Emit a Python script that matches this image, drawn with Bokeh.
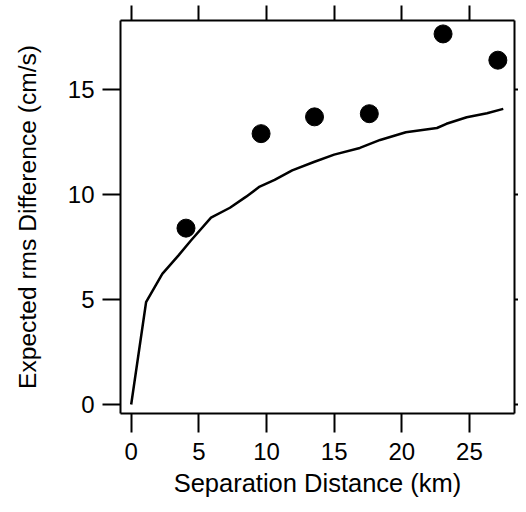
from bokeh.plotting import figure
from bokeh.models import LinearAxis, Range1d, FixedTicker, CustomJSTickFormatter
from bokeh.embed import file_html
from bokeh.resources import INLINE

# Data
curve_x = [0, 1.1, 2.3, 3.5, 4.4, 5.9, 7.3, 8.5, 9.5, 10.6, 11.9, 13.5, 15.0,
           16.9, 18.4, 20.3, 22.6, 23.3, 24.8, 26.3, 27.5]
curve_y = [0, 4.87, 6.22, 7.1, 7.8, 8.9, 9.37, 9.9, 10.38, 10.7, 11.15, 11.55,
           11.9, 12.22, 12.6, 12.97, 13.17, 13.37, 13.68, 13.87, 14.08]
obs_x = [4.05, 9.6, 13.55, 17.6, 23.05, 27.1]
obs_y = [8.4, 12.9, 13.7, 13.85, 17.65, 16.4]
x_ticks = [0, 5, 10, 15, 20, 25]
y_ticks = [0, 5, 10, 15]

FONT = "Liberation Sans"

p = figure(width=518, height=504, output_backend="svg", toolbar_location=None,
           x_range=Range1d(-0.79, 28.33), y_range=Range1d(-0.43, 18.29),
           x_axis_location=None, y_axis_location=None,
           min_border_left=120, min_border_right=4,
           min_border_top=20, min_border_bottom=91)
p.outline_line_color = None
p.grid.visible = False
p.background_fill_color = "white"
p.border_fill_color = "white"


def style(ax, tick_out, labels=True):
    ax.axis_line_color = "black"
    ax.axis_line_width = 2
    ax.major_tick_line_color = "black"
    ax.major_tick_line_width = 2
    ax.major_tick_out = tick_out
    ax.major_tick_in = 0
    ax.minor_tick_line_color = None
    if labels:
        ax.major_label_text_font = FONT
        ax.major_label_text_font_size = "24px"
        ax.major_label_text_color = "black"
    else:
        ax.formatter = CustomJSTickFormatter(code="return ''")
        ax.major_label_text_font_size = "1px"
        ax.major_label_standoff = 0


bottom = LinearAxis(ticker=FixedTicker(ticks=x_ticks),
                    axis_label="Separation Distance (km)")
style(bottom, 19)
bottom.major_label_standoff = 10
bottom.axis_label_standoff = 6
bottom.axis_label_text_font = FONT
bottom.axis_label_text_font_size = "25.5px"
bottom.axis_label_text_font_style = "normal"
bottom.axis_label_text_color = "black"
p.add_layout(bottom, "below")

left = LinearAxis(ticker=FixedTicker(ticks=y_ticks),
                  axis_label="Expected rms Difference (cm/s)")
style(left, 18)
left.major_label_standoff = 8
left.axis_label_standoff = 24
left.axis_label_text_font = FONT
left.axis_label_text_font_size = "24.6px"
left.axis_label_text_font_style = "normal"
left.axis_label_text_color = "black"
p.add_layout(left, "left")

top = LinearAxis(ticker=FixedTicker(ticks=x_ticks))
style(top, 15, labels=False)
p.add_layout(top, "above")

right = LinearAxis(ticker=FixedTicker(ticks=y_ticks))
style(right, 4, labels=False)
p.add_layout(right, "right")

p.line(curve_x, curve_y, line_color="black", line_width=2.5)
p.scatter(obs_x, obs_y, size=18, fill_color="black", line_color="black")

open("out.html", "w").write(file_html(p, INLINE))
